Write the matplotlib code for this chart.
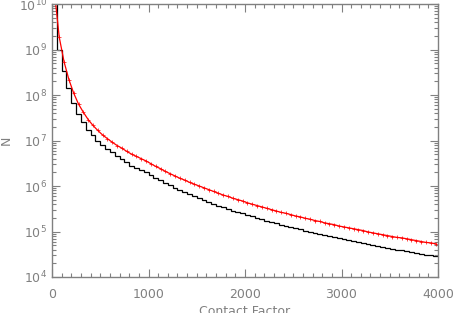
import numpy as np
import matplotlib
matplotlib.use("Agg")
import matplotlib.pyplot as plt
from matplotlib.ticker import MultipleLocator, LogLocator, NullFormatter

# red curve: points at bin centres, values are log10(N)
red_x = list(range(25, 4000, 50))
red_log = [10.27, 9.27, 8.73, 8.34, 8.04, 7.80, 7.62, 7.46, 7.33, 7.22,
           7.12, 7.04, 6.96, 6.89, 6.83, 6.76, 6.70, 6.65, 6.60, 6.55,
           6.49, 6.43, 6.38, 6.32, 6.27, 6.22, 6.17, 6.13, 6.08, 6.04,
           6.00, 5.96, 5.92, 5.88, 5.84, 5.80, 5.77, 5.73, 5.70, 5.67,
           5.63, 5.60, 5.57, 5.54, 5.51, 5.48, 5.45, 5.42, 5.40, 5.37,
           5.34, 5.32, 5.29, 5.27, 5.24, 5.22, 5.19, 5.17, 5.15, 5.12,
           5.10, 5.08, 5.06, 5.04, 5.02, 4.99, 4.97, 4.95, 4.93, 4.91,
           4.89, 4.87, 4.86, 4.84, 4.82, 4.80, 4.78, 4.76, 4.75, 4.73]

# black histogram: bin edges every 50, values log10(N)
black_edges = list(range(0, 4001, 50))
black_log = [10.50, 9.00, 8.53, 8.15, 7.83, 7.59, 7.40, 7.24, 7.11, 7.00,
             6.90, 6.82, 6.74, 6.67, 6.60, 6.52, 6.45, 6.40, 6.35, 6.30,
             6.24, 6.18, 6.13, 6.07, 6.02, 5.96, 5.91, 5.87, 5.82, 5.78,
             5.73, 5.69, 5.65, 5.61, 5.57, 5.53, 5.50, 5.46, 5.43, 5.40,
             5.36, 5.33, 5.30, 5.27, 5.24, 5.21, 5.18, 5.15, 5.13, 5.10,
             5.07, 5.05, 5.02, 5.00, 4.97, 4.95, 4.92, 4.90, 4.88, 4.85,
             4.83, 4.81, 4.79, 4.77, 4.75, 4.72, 4.70, 4.68, 4.66, 4.64,
             4.62, 4.60, 4.59, 4.57, 4.55, 4.53, 4.51, 4.49, 4.48, 4.46]

grey = "#808080"

fig = plt.figure(figsize=(4.53, 3.13), dpi=100)
ax = fig.add_axes([52/453, 1-277/313, (438-52)/453, (277-4)/313])

ax.stairs(10**np.array(black_log), black_edges, color="black", lw=0.9, baseline=None)
ax.plot(red_x, 10**np.array(red_log), color="red", lw=0.9, marker="+", ms=3, mew=0.5)

ax.set_yscale("log")
ax.set_xlim(0, 4000)
ax.set_ylim(1e4, 1e10)

ax.xaxis.set_major_locator(MultipleLocator(1000))
ax.xaxis.set_minor_locator(MultipleLocator(100))
ax.yaxis.set_major_locator(LogLocator(base=10, numticks=10))
ax.yaxis.set_minor_locator(LogLocator(base=10, subs=np.arange(2, 10), numticks=20))
ax.yaxis.set_minor_formatter(NullFormatter())

ax.tick_params(which="both", direction="in", top=True, right=True, colors=grey,
               labelsize=9, labelcolor=grey)
ax.tick_params(which="major", length=6, width=0.8)
ax.tick_params(which="minor", length=3, width=0.8)
ax.tick_params(axis="x", pad=8)
for s in ax.spines.values():
    s.set_color(grey)
    s.set_linewidth(1.0)

ax.set_xlabel("Contact Factor", color=grey, fontsize=9, va="top")
ax.xaxis.set_label_coords(0.5, -(305 - 277) / 273)
ax.set_ylabel("N", color=grey, fontsize=9, va="center")
ax.yaxis.set_label_coords(-(52 - 6) / 386, 0.5)

fig.savefig("out.png", dpi=100)
